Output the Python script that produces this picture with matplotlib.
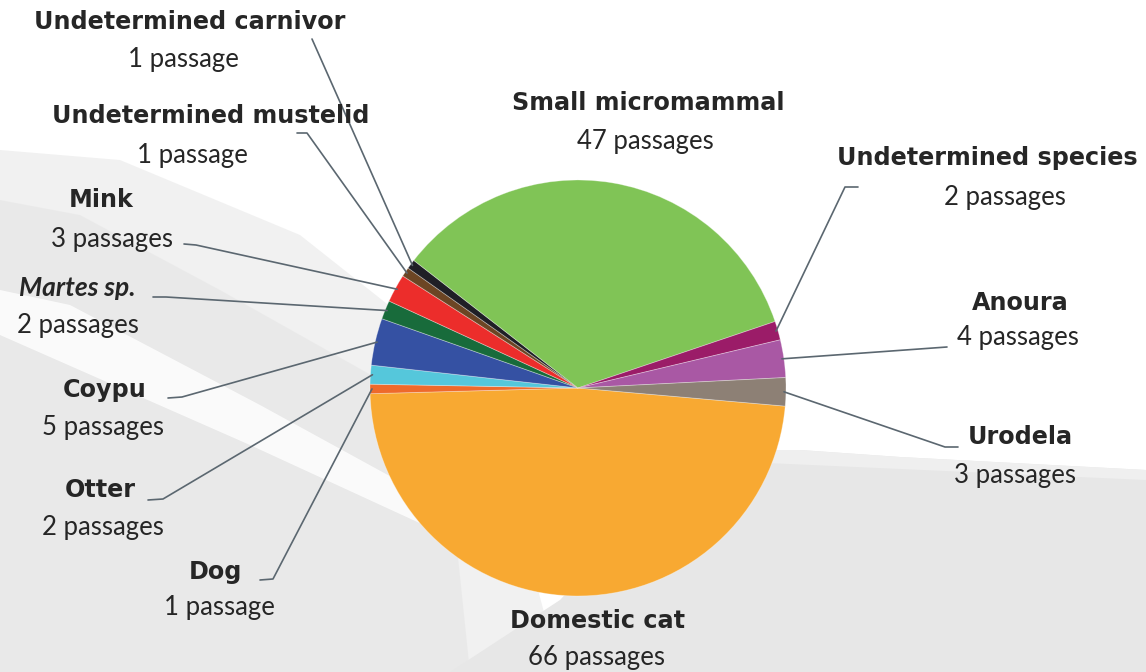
import matplotlib
matplotlib.use("Agg")
import matplotlib.pyplot as plt
import numpy as np

# =========================
# DATA (clockwise from the right side)
# =========================
species = ["Domestic cat", "Dog", "Otter", "Coypu", "Martes sp.", "Mink",
           "Undetermined mustelid", "Undetermined carnivor", "Small micromammal",
           "Undetermined species", "Anoura", "Urodela"]
passages = [66, 1, 2, 5, 2, 3, 1, 1, 47, 2, 4, 3]
colors = ["#F8A932", "#EE6A2B", "#55C7DB", "#3551A3", "#186B3B", "#EC2D2B",
          "#6C4524", "#1F1F26", "#80C456", "#9B1C68", "#A958A4", "#8D8075"]

# =========================
# FIGURE (pixel coordinates, y measured from the top)
# =========================
W, H = 1146, 672
fig = plt.figure(figsize=(W / 100, H / 100), dpi=100)
ax = fig.add_axes([0, 0, 1, 1])


def Y(y):
    return H - y


# soft, light background loosely imitating the photo behind the chart
bg = dict(zorder=0, lw=0)
ax.fill([0, 120, 300, 420, 480, 530, 560, 0],
        [Y(v) for v in [150, 160, 235, 330, 430, 560, 672, 672]],
        color="#e6e6e6", alpha=0.55, **bg)
ax.fill([0, 80, 220, 380, 450, 470, 0],
        [Y(v) for v in [200, 215, 290, 380, 480, 672, 672]],
        color="#e3e3e3", alpha=0.5, **bg)
ax.fill([0, 70, 260, 470, 500, 250, 0],
        [Y(v) for v in [290, 305, 405, 520, 560, 445, 335]],
        color="white", alpha=0.8, **bg)
ax.fill([450, 560, 700, 800, 900, 1146, 1146, 450],
        [Y(v) for v in [672, 600, 450, 450, 457, 470, 672, 672]],
        color="#e7e7e7", **bg)
ax.fill([700, 800, 900, 1146, 1146, 700],
        [Y(v) for v in [450, 450, 457, 470, 480, 460]],
        color="#efefef", **bg)

# =========================
# PIE
# =========================
cx, cy, R = 578, Y(388), 208
wedges, _ = ax.pie(passages, colors=colors, startangle=-5, counterclock=False,
                   center=(cx, cy), radius=R,
                   wedgeprops=dict(linewidth=0.6, edgecolor=(1, 1, 1, 0.35)))
for w in wedges:
    w.set_zorder(2)

ax.set_xlim(0, W)
ax.set_ylim(0, H)
ax.set_aspect("equal")
ax.axis("off")

# =========================
# LABELS
# =========================
# name position, count position (x, y from top)
label_pos = {
    "Domestic cat": ((597, 621), (597, 658)),
    "Dog": ((215, 572), (219, 608)),
    "Otter": ((100, 490), (103, 528)),
    "Coypu": ((105, 390), (103, 427)),
    "Martes sp.": ((77, 288), (78, 326)),
    "Mink": ((101, 200), (112, 240)),
    "Undetermined mustelid": ((211, 116), (192, 155)),
    "Undetermined carnivor": ((190, 22), (183, 60)),
    "Small micromammal": ((648, 103), (645, 141)),
    "Undetermined species": ((987, 158), (1005, 197)),
    "Anoura": ((1020, 303), (1018, 338)),
    "Urodela": ((1020, 437), (1015, 475)),
}

# leader line points from the text side (x, y from top); wedge end is added
leaders = {
    "Dog": [(260, 580), (273, 579)],
    "Otter": [(148, 500), (163, 499)],
    "Coypu": [(168, 398), (182, 397)],
    "Martes sp.": [(153, 297), (166, 297)],
    "Mink": [(184, 244), (196, 245)],
    "Undetermined mustelid": [(297, 133), (307, 133)],
    "Undetermined carnivor": [(312, 39)],
    "Undetermined species": [(858, 187), (845, 187)],
    "Anoura": [(947, 347)],
    "Urodela": [(958, 447), (945, 447)],
}

ink = "#262626"
bold_font = dict(family="DejaVu Sans", fontweight="bold", fontsize=17.2, color=ink)
reg_font = dict(family="Lato", fontsize=18.5, color=ink)

for name, n, w in zip(species, passages, wedges):
    (nx, ny), (px, py) = label_pos[name]
    if name == "Martes sp.":
        ax.text(nx, Y(ny), name, ha="center", va="center", family="Lato",
                fontsize=19, fontweight="bold", style="italic", color=ink, zorder=4)
    else:
        ax.text(nx, Y(ny), name, ha="center", va="center", zorder=4, **bold_font)
    word = "passage" if n == 1 else "passages"
    ax.text(px, Y(py), f"{n} {word}", ha="center", va="center", zorder=4, **reg_font)

    if name in leaders:
        mid = np.deg2rad((w.theta1 + w.theta2) / 2)
        ex, ey = cx + (R - 2) * np.cos(mid), cy + (R - 2) * np.sin(mid)
        pts = leaders[name]
        xs = [p[0] for p in pts] + [ex]
        ys = [Y(p[1]) for p in pts] + [ey]
        ax.plot(xs, ys, color="#5b6770", lw=1.2, zorder=3, solid_capstyle="round")

plt.savefig("out.png", dpi=100)
